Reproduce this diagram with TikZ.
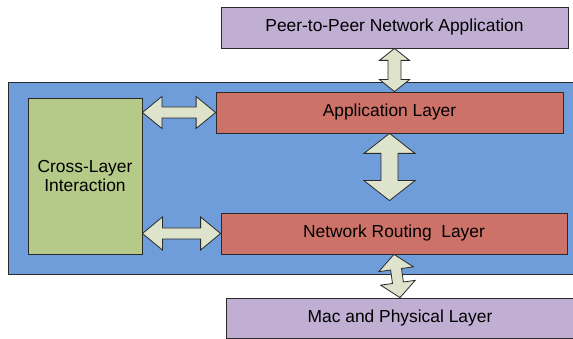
\documentclass[tikz,border=0pt]{standalone}
\usepackage{fontspec}
\setmainfont{Liberation Sans}
\usetikzlibrary{calc}
\definecolor{lav}{HTML}{C0AFD2}
\definecolor{bluebg}{HTML}{6F9DD9}
\definecolor{redbox}{HTML}{CD7269}
\definecolor{greenbox}{HTML}{B5CA89}
\definecolor{arrowfill}{HTML}{DEE3CC}
\definecolor{edge}{HTML}{2A2A2A}
% #1 start, #2 end, #3 head length, #4 head half width, #5 shaft half width, #6 name
\newcommand{\blkarrow}[6]{%
  \coordinate (#6-a) at ($(#1)!#3!(#2)$);
  \coordinate (#6-b) at ($(#2)!#3!(#1)$);
  \draw[blockarrow] (#1) -- ($(#6-a)!#4!90:(#2)$) -- ($(#6-a)!#5!90:(#2)$)
    -- ($(#6-b)!#5!90:(#2)$) -- ($(#6-b)!#4!90:(#2)$) -- (#2)
    -- ($(#6-b)!#4!-90:(#2)$) -- ($(#6-b)!#5!-90:(#2)$)
    -- ($(#6-a)!#5!-90:(#2)$) -- ($(#6-a)!#4!-90:(#2)$) -- cycle;
}
\begin{document}
\begin{tikzpicture}[x=1pt,y=-1pt,
  box/.style={draw=edge, line width=0.8pt, inner sep=0pt, align=center,
    font=\fontsize{17.4}{19}\selectfont},
  purplebox/.style={box, fill=lav},
  redlayer/.style={box, fill=redbox},
  greenpanel/.style={box, fill=greenbox},
  bluepanel/.style={box, fill=bluebg},
  blockarrow/.style={draw=edge, line width=0.8pt, fill=arrowfill, line join=miter}]
\useasboundingbox (0,0) rectangle (573,339);
\node[bluepanel, minimum width=566pt, minimum height=192pt] (stack) at (291,178) {};
\node[purplebox, minimum width=347pt, minimum height=41pt] (p2p) at (394.5,27.5) {Peer-to-Peer Network Application};
\node[greenpanel, minimum width=114pt, minimum height=156pt] (cross) at (85,176) {Cross-Layer\\Interaction};
\node[redlayer, minimum width=347pt, minimum height=41pt] (app) at (389.5,112.5) {Application Layer};
\node[redlayer, minimum width=346pt, minimum height=41pt] (nrl) at (394,233.5) {Network Routing\ \ Layer};
\node[purplebox, minimum width=348pt, minimum height=40pt] (mac) at (400,318) {Mac and Physical Layer};
\coordinate (a1e) at (p2p.south |- app.north);
\coordinate (a2e) at ($(app.south |- nrl.north)+(0,-12)$);
\coordinate (a4s) at (cross.east |- app.west);
\coordinate (a5s) at (cross.east |- nrl.west);
\blkarrow{p2p.south}{a1e}{12pt}{15pt}{6.5pt}{ar1}
\blkarrow{app.south}{a2e}{20pt}{25.5pt}{8.5pt}{ar2}
\blkarrow{nrl.south}{mac.north}{15pt}{17.5pt}{5.5pt}{ar3}
\blkarrow{a4s}{app.west}{19.5pt}{16pt}{5.5pt}{ar4}
\blkarrow{a5s}{nrl.west}{20pt}{16.5pt}{5.5pt}{ar5}
\end{tikzpicture}
\end{document}
